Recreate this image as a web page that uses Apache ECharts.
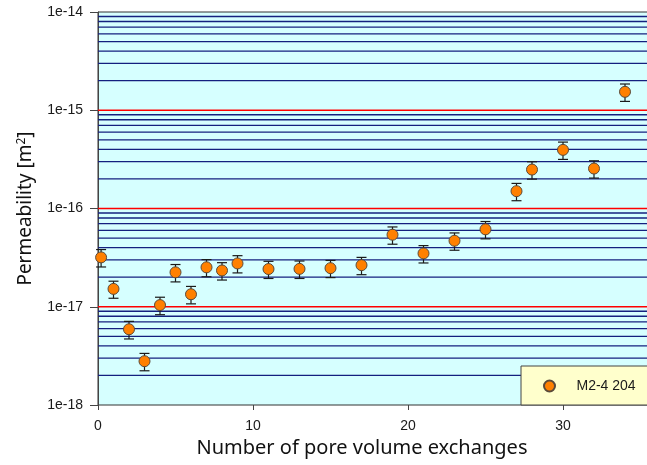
<!DOCTYPE html>
<html>
<head>
<meta charset="utf-8">
<script src="https://cdn.jsdelivr.net/npm/echarts@6/dist/echarts.min.js"></script>
<style>html,body{margin:0;padding:0;background:#fff}#c{width:647px;height:465px}</style>
</head>
<body>
<div id="c"></div>
<script>
var seriesName = 'M2-4 204';
var xValues = [0.2, 1, 2, 3, 4, 5, 6, 7, 8, 9, 11, 13, 15, 17, 19, 21, 23, 25, 27, 28, 30, 32, 34];
var permeability = [3.18e-17, 1.52e-17, 5.9e-18, 2.79e-18, 1.04e-17, 2.24e-17, 1.34e-17, 2.52e-17, 2.34e-17, 2.76e-17, 2.42e-17, 2.43e-17, 2.47e-17, 2.65e-17, 5.41e-17, 3.49e-17, 4.70e-17, 6.14e-17, 1.50e-16, 2.49e-16, 3.95e-16, 2.55e-16, 1.54e-15];
var errLow = [2.54e-17, 1.22e-17, 4.7e-18, 2.23e-18, 8.3e-18, 1.79e-17, 1.07e-17, 2.02e-17, 1.87e-17, 2.21e-17, 1.94e-17, 1.94e-17, 1.98e-17, 2.12e-17, 4.33e-17, 2.79e-17, 3.76e-17, 4.91e-17, 1.20e-16, 1.99e-16, 3.16e-16, 2.04e-16, 1.23e-15];
var errHigh = [3.82e-17, 1.82e-17, 7.1e-18, 3.35e-18, 1.25e-17, 2.69e-17, 1.61e-17, 3.02e-17, 2.81e-17, 3.31e-17, 2.90e-17, 2.92e-17, 2.96e-17, 3.18e-17, 6.49e-17, 4.19e-17, 5.64e-17, 7.37e-17, 1.80e-16, 2.99e-16, 4.74e-16, 3.06e-16, 1.85e-15];
var xTicks = [0, 10, 20, 30];
var yDecades = [-18, -17, -16, -15, -14];

var points = xValues.map(function (x, i) { return [x, permeability[i]]; });
var bars = xValues.map(function (x, i) { return [x, errLow[i], errHigh[i]]; });

// horizontal grid lines: minor at 2..9 x 10^n (navy), decades (red)
var gridLines = [];
for (var d = 0; d < yDecades.length - 1; d++) {
  for (var k = 2; k <= 9; k++) {
    gridLines.push([0, k * Math.pow(10, yDecades[d]), 0]);
  }
}
for (var j = 1; j < yDecades.length - 1; j++) {
  gridLines.push([0, Math.pow(10, yDecades[j]), 1]);
}

var chart = echarts.init(document.getElementById('c'), null, { renderer: 'canvas' });
chart.setOption({
  animation: false,
  backgroundColor: '#ffffff',
  grid: {
    left: 98, top: 12, width: 558, height: 393,
    outerBoundsMode: 'none',
    containLabel: false,
    show: true, backgroundColor: '#d6ffff', borderColor: '#333333', borderWidth: 1
  },
  legend: {
    data: [seriesName],
    left: 521, top: 366,
    orient: 'horizontal',
    backgroundColor: '#ffffcc',
    borderColor: '#444444', borderWidth: 1, borderRadius: 0,
    padding: [13, 60, 12, 22],
    itemWidth: 44, itemHeight: 11,
    icon: 'circle',
    textStyle: { fontFamily: 'Liberation Sans, Arial, sans-serif', fontSize: 14, color: '#1a1a1a' }
  },
  xAxis: {
    type: 'value',
    min: 0, max: 36, interval: 10,
    name: 'Number of pore volume exchanges',
    nameLocation: 'middle',
    nameGap: 28,
    nameTextStyle: { fontFamily: 'Noto Sans, Open Sans, sans-serif', fontSize: 20, color: '#111111', padding: [0, 30, 0, 0] },
    axisLine: { show: false, onZero: false },
    axisTick: { show: true, inside: false, length: 5, customValues: xTicks, lineStyle: { color: '#444444' } },
    axisLabel: {
      margin: 14, fontFamily: 'Liberation Sans, Arial, sans-serif', fontSize: 14, color: '#1a1a1a',
      customValues: xTicks,
      formatter: function (v) { return String(v); }
    },
    splitLine: { show: false }
  },
  yAxis: {
    type: 'log',
    logBase: 10,
    min: Math.pow(10, yDecades[0]), max: Math.pow(10, yDecades[yDecades.length - 1]),
    name: 'Permeability [m{sup|2}]',
    nameLocation: 'middle',
    nameGap: 62,
    nameRotate: 90,
    nameTextStyle: {
      fontFamily: 'Noto Sans, Open Sans, sans-serif', fontSize: 19, color: '#111111',
      rich: { sup: { fontFamily: 'Noto Sans, Open Sans, sans-serif', fontSize: 12, verticalAlign: 'top', padding: [0, 0, 8, 0], color: '#111111' } }
    },
    axisLine: { show: true, onZero: false, lineStyle: { color: '#444444', width: 1 } },
    axisTick: { show: true, inside: false, length: 8, lineStyle: { color: '#444444' } },
    axisLabel: {
      margin: 15, fontFamily: 'Liberation Sans, Arial, sans-serif', fontSize: 14, color: '#1a1a1a',
      formatter: function (v) { return '1e' + Math.round(Math.log10(v)); }
    },
    splitLine: { show: false }
  },
  series: [
    {
      type: 'custom',
      name: 'grid-lines',
      data: gridLines,
      silent: true,
      z: 1,
      renderItem: function (params, api) {
        var p = api.coord([0, api.value(1)]);
        var cs = params.coordSys;
        var isDecade = api.value(2) === 1;
        return {
          type: 'line',
          z2: isDecade ? 10 : 0,
          shape: { x1: cs.x, y1: p[1], x2: cs.x + cs.width, y2: p[1] },
          style: { stroke: isDecade ? '#ff0000' : '#14207f', lineWidth: isDecade ? 1.4 : 1.3 }
        };
      },
      encode: { x: 0, y: 1 }
    },
    {
      type: 'custom',
      name: 'error',
      data: bars,
      silent: true,
      z: 3,
      renderItem: function (params, api) {
        var x = api.value(0);
        var lo = api.coord([x, api.value(1)]);
        var hi = api.coord([x, api.value(2)]);
        var hw = 5;
        var st = { stroke: '#1a1a1a', lineWidth: 1.2 };
        return {
          type: 'group',
          children: [
            { type: 'line', shape: { x1: lo[0], y1: lo[1], x2: hi[0], y2: hi[1] }, style: st },
            { type: 'line', shape: { x1: lo[0] - hw, y1: lo[1], x2: lo[0] + hw, y2: lo[1] }, style: st },
            { type: 'line', shape: { x1: hi[0] - hw, y1: hi[1], x2: hi[0] + hw, y2: hi[1] }, style: st }
          ]
        };
      },
      encode: { x: 0, y: [1, 2] }
    },
    {
      type: 'scatter',
      name: seriesName,
      data: points,
      symbol: 'circle',
      symbolSize: 11,
      z: 4,
      itemStyle: { color: '#ff8000', borderColor: '#5a4a3a', borderWidth: 1, opacity: 1 }
    }
  ]
});
</script>
</body>
</html>
